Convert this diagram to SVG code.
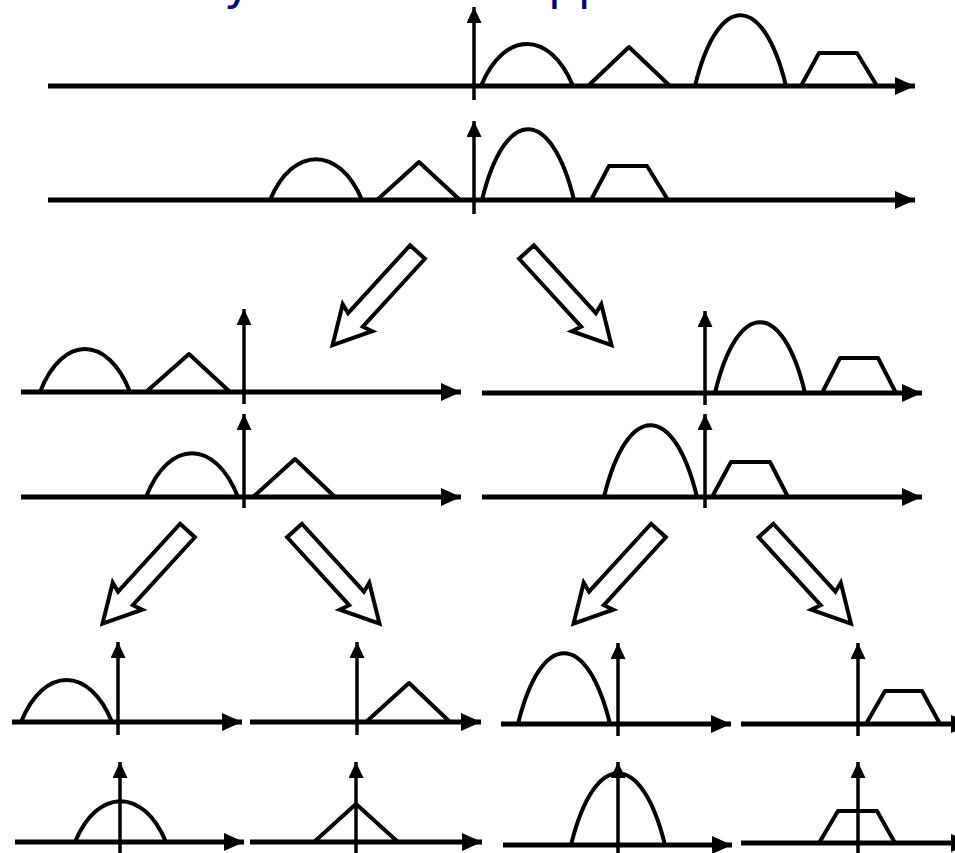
<svg xmlns="http://www.w3.org/2000/svg" width="955" height="853" viewBox="0 0 955 853">
<style>
.ax{stroke:#000;stroke-width:5;fill:none;marker-end:url(#ah)}
.ay{stroke:#000;stroke-width:3.5;fill:none;marker-end:url(#av)}
.sh{stroke:#000;stroke-width:4;fill:none;stroke-linejoin:round}
.ba{stroke:#000;stroke-width:4;fill:#fff;stroke-linejoin:miter}
.title{font-family:"DejaVu Sans",Verdana,sans-serif;font-size:47px;fill:#000080}
</style>
<defs>
<marker id="ah" markerUnits="userSpaceOnUse" markerWidth="20" markerHeight="18" viewBox="0 0 20 18" refX="20" refY="9" orient="auto"><path d="M0,0 L20,9 L0,18 z" fill="#000"/></marker>
<marker id="av" markerUnits="userSpaceOnUse" markerWidth="16" markerHeight="15" viewBox="0 0 16 15" refX="16" refY="7.5" orient="auto"><path d="M0,0 L16,7.5 L0,15 z" fill="#000"/></marker>
<polygon id="blk" points="0,-10 92,-10 89,-20 126,0 89,20 92,10 0,10"/>
</defs>
<rect width="955" height="853" fill="#fff"/>
<g id="title">
<text class="title" x="224" y="-1">y</text>
<text class="title" x="548" y="-1">pp</text>
</g>
<g id="row1-spectrum">
<line class="ax" x1="48" y1="86" x2="915" y2="86"/>
<line class="ay" x1="474" y1="100" x2="474" y2="7"/>
<path class="sh" d="M481,86 C504,30 550,30 573,86"/>
<polyline class="sh" points="588,86 629,47 670,86"/>
<path class="sh" d="M695,86 C718,-8.4 763,-8.4 786,86"/>
<polyline class="sh" points="801,86 819,53 857,53 877,86"/>
</g>
<g id="row2-spectrum">
<line class="ax" x1="48" y1="200" x2="915" y2="200"/>
<line class="ay" x1="474" y1="214" x2="474" y2="121"/>
<path class="sh" d="M270,200 C293,145.5 339,145.5 362,200"/>
<polyline class="sh" points="377,200 419,162 460,200"/>
<path class="sh" d="M482,200 C505,105.6 551,105.6 574,200"/>
<polyline class="sh" points="591,200 609,166 647,166 668,200"/>
</g>
<g id="row3-left">
<line class="ax" x1="21" y1="392" x2="461" y2="392"/>
<line class="ay" x1="244" y1="404" x2="244" y2="309"/>
<path class="sh" d="M40,392 C62.5,334.8 107.5,334.8 130,392"/>
<polyline class="sh" points="146,392 189,354 230,392"/>
</g>
<g id="row3-right">
<line class="ax" x1="482" y1="393" x2="922" y2="393"/>
<line class="ay" x1="705" y1="405" x2="705" y2="311"/>
<path class="sh" d="M715,393 C737.5,298.6 782.5,298.6 805,393"/>
<polyline class="sh" points="822,393 840,358 878,358 896,393"/>
</g>
<g id="row4-left">
<line class="ax" x1="21" y1="497" x2="461" y2="497"/>
<line class="ay" x1="244" y1="508" x2="244" y2="414"/>
<path class="sh" d="M146,497 C169,438.5 215,438.5 238,497"/>
<polyline class="sh" points="253,497 295,459 335,497"/>
</g>
<g id="row4-right">
<line class="ax" x1="482" y1="497" x2="922" y2="497"/>
<line class="ay" x1="705" y1="508" x2="705" y2="414"/>
<path class="sh" d="M604,497 C627.25,401.2 673.75,401.2 697,497"/>
<polyline class="sh" points="712,497 731,462 770,462 788,497"/>
</g>
<g id="row6-p1">
<line class="ax" x1="12" y1="722" x2="242" y2="722"/>
<line class="ay" x1="118" y1="735" x2="118" y2="642"/>
<path class="sh" d="M21,722 C43.75,666.1 89.25,666.1 112,722"/>
</g>
<g id="row6-p2">
<line class="ax" x1="250" y1="722" x2="481" y2="722"/>
<line class="ay" x1="357" y1="735" x2="357" y2="642"/>
<polyline class="sh" points="366,722 409,683 450,722"/>
</g>
<g id="row6-p3">
<line class="ax" x1="501" y1="724" x2="731" y2="724"/>
<line class="ay" x1="618" y1="736" x2="618" y2="643"/>
<path class="sh" d="M518,724 C541,629.6 587,629.6 610,724"/>
</g>
<g id="row6-p4">
<line class="ax" x1="741" y1="724" x2="971" y2="724"/>
<line class="ay" x1="858" y1="736" x2="858" y2="643"/>
<polyline class="sh" points="866,724 885,691 922,691 940,724"/>
</g>
<g id="row7-p1">
<line class="ax" x1="15" y1="842" x2="244" y2="842"/>
<line class="ay" x1="120" y1="860" x2="120" y2="762"/>
<path class="sh" d="M75,842 C97.75,787.5 143.25,787.5 166,842"/>
</g>
<g id="row7-p2">
<line class="ax" x1="250" y1="842" x2="482" y2="842"/>
<line class="ay" x1="356" y1="860" x2="356" y2="762"/>
<polyline class="sh" points="314,842 356,804 398,842"/>
</g>
<g id="row7-p3">
<line class="ax" x1="503" y1="845" x2="732" y2="845"/>
<line class="ay" x1="618" y1="860" x2="618" y2="762"/>
<path class="sh" d="M571,845 C594.5,749.2 641.5,749.2 665,845"/>
</g>
<g id="row7-p4">
<line class="ax" x1="741" y1="843" x2="971" y2="843"/>
<line class="ay" x1="858" y1="860" x2="858" y2="762"/>
<polyline class="sh" points="819,843 838,811 877,811 895,843"/>
</g>
<g id="connectors">
<use href="#blk" class="ba" transform="translate(417.5,252) rotate(132.4)"/>
<use href="#blk" class="ba" transform="translate(526.5,252) rotate(47.6)"/>
<use href="#blk" class="ba" transform="translate(187.5,530.5) rotate(132.4)"/>
<use href="#blk" class="ba" transform="translate(294.5,530.5) rotate(47.6)"/>
<use href="#blk" class="ba" transform="translate(658.5,530.5) rotate(132.4)"/>
<use href="#blk" class="ba" transform="translate(766,530.5) rotate(47.6)"/>
</g>
</svg>
